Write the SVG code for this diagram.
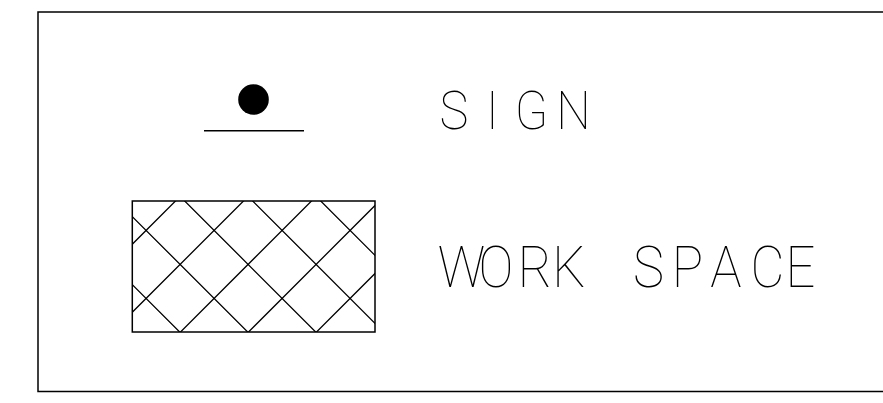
<svg xmlns="http://www.w3.org/2000/svg" width="883" height="403" viewBox="0 0 883 403">
<style>
.ln{stroke:#000;stroke-width:1.5;fill:none}
.h{stroke:#000;stroke-width:1.3;fill:none}
.t{font-family:Roboto,"Liberation Sans",sans-serif;font-weight:100;fill:#000;text-anchor:middle}
</style>
<defs>
<clipPath id="boxclip"><rect x="132.3" y="201" width="242.7" height="131"/></clipPath>
</defs>
<rect width="883" height="403" fill="#fff"/>
<g id="frame"><path class="ln" d="M883,12 H38 V391.5 H883"/></g>
<g id="sign">
<circle cx="253.5" cy="99.5" r="15.3" fill="#000"/>
<line class="ln" x1="204" y1="130.7" x2="304" y2="130.7"/>
<text class="t" font-size="53" transform="scale(0.92 1)" x="493.5 535.3 577.7 623.4" y="129.3">SIGN</text>
</g>
<g id="work-space">
<g clip-path="url(#boxclip)">
<path class="h" d="M376.5,0 L0,376.5 M444.5,0 L0,444.5 M512.5,0 L0,512.5 M580.5,0 L0,580.5 M648.5,0 L0,648.5 M0,152.3 L400,552.3 M0,84.3 L400,484.3 M0,16.3 L400,416.3 M51.7,0 L451.7,400 M119.7,0 L519.7,400"/>
</g>
<rect class="ln" x="132.3" y="201" width="242.7" height="131"/>
<text class="t" font-size="57" transform="scale(0.92 1)" x="501.6 539.1 581.5 618.5 660.9 704.9 747.3 789.1 834.2 870.1" y="287.3">WORK SPACE</text>
</g>
<g id="connectors"/>
</svg>
